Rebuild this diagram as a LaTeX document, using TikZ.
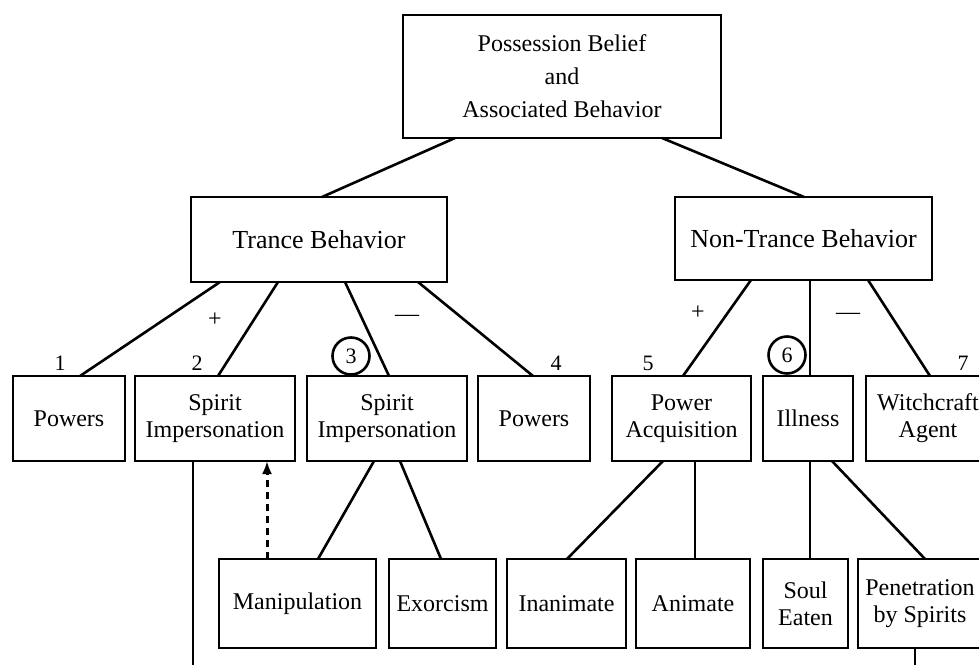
\documentclass[tikz,border=0pt]{standalone}
\usepackage{fontspec}
\setmainfont{Liberation Serif}
\usetikzlibrary{positioning, arrows.meta}

\begin{document}
\begin{tikzpicture}[
    x=1pt, y=-1pt,
    box/.style={rectangle, draw, line width=2.8pt, inner sep=0pt, outer sep=0pt, align=center, minimum height=85pt, font=\fontsize{24}{27}\selectfont},
    lowbox/.style={box, minimum height=89pt},
    line/.style={draw, line width=2.6pt},
    num/.style={inner sep=0pt, font=\fontsize{22}{22}\selectfont},
    ring/.style={circle, draw, line width=2.6pt, minimum size=37pt, inner sep=0pt, font=\fontsize{22}{22}\selectfont},
    sign/.style={inner sep=0pt, font=\fontsize{24}{24}\selectfont}
]
    \useasboundingbox (0,0) rectangle (979,664);
    \clip (0,0) rectangle (979,664);

    % Nodes
    \node (root) [box, minimum width=318pt, minimum height=123pt, font=\fontsize{24}{33}\selectfont] at (562,76.5) {Possession Belief\\and\\Associated Behavior};

    \node (trance) [box, minimum width=256pt, font=\fontsize{26}{27}\selectfont] at (319,239.5) {Trance Behavior};
    \node (nontrance) [box, minimum width=257pt, minimum height=83pt, font=\fontsize{26}{27}\selectfont] at (803.5,238.5) {Non-Trance Behavior};

    \node (pw1) [box, minimum width=112pt] at (69,418.5) {Powers};
    \node (si2) [box, minimum width=160pt, right=10pt of pw1] {Spirit\\Impersonation};
    \node (si3) [box, minimum width=160pt, right=12pt of si2] {Spirit\\Impersonation};
    \node (pw4) [box, minimum width=112pt, right=11pt of si3] {Powers};
    \node (pa) [box, minimum width=139pt, right=22pt of pw4] {Power\\Acquisition};
    \node (ill) [box, minimum width=90pt, right=12pt of pa] {Illness};
    \node (wit) [box, minimum width=124pt, right=13pt of ill] {Witchcraft\\Agent};

    \node (man) [lowbox, minimum width=157pt] at (297.5,603.5) {Manipulation};
    \node (exo) [lowbox, minimum width=107pt, right=13pt of man] {Exorcism};
    \node (ina) [lowbox, minimum width=119pt, right=11pt of exo] {Inanimate};
    \node (ani) [lowbox, minimum width=114pt, right=10pt of ina] {Animate};
    \node (soul) [lowbox, minimum width=85pt, right=13pt of ani] {Soul\\Eaten};
    \node (pen) [lowbox, minimum width=124pt, right=10pt of soul] {Penetration\\by Spirits};

    % Labels
    \node (n1) [num] at (60,363) {1};
    \node (n2) [num] at (197,363) {2};
    \node (n3) [ring] at (351,356) {3};
    \node (n4) [num] at (556,363) {4};
    \node (n5) [num] at (648,363) {5};
    \node (n6) [ring] at (787,355) {6};
    \node (n7) [num] at (963,363) {7};
    \node (plusl) [sign] at (215,320) {+};
    \node (minusl) [sign] at (407,318) {---};
    \node (plusr) [sign] at (698,313) {+};
    \node (minusr) [sign] at (848,316) {---};

    \coordinate (loopl) at (193,680);
    \coordinate (loopr) at (915,680);

    % Connections
    \draw [line] ([xshift=52pt]root.south west) -- ([xshift=131pt]trance.north west);
    \draw [line] ([xshift=259pt]root.south west) -- ([xshift=129pt]nontrance.north west);

    \draw [line] ([xshift=29pt]trance.south west) -- ([xshift=67pt]pw1.north west);
    \draw [line] ([xshift=87pt]trance.south west) -- ([xshift=83pt]si2.north west);
    \draw [line] ([xshift=154pt]trance.south west) -- ([xshift=82pt]si3.north west);
    \draw [line] ([xshift=227pt]trance.south west) -- ([xshift=55pt]pw4.north west);

    \draw [line] ([xshift=76pt]nontrance.south west) -- ([xshift=71pt]pa.north west);
    \draw [line] ([xshift=135pt]nontrance.south west) -- ([xshift=47pt]ill.north west);
    \draw [line] ([xshift=193pt]nontrance.south west) -- ([xshift=64pt]wit.north west);

    \draw [line] ([xshift=67pt]si3.south west) -- ([xshift=99pt]man.north west);
    \draw [line] ([xshift=93pt]si3.south west) -- ([xshift=52pt]exo.north west);
    \draw [line] ([xshift=51pt]pa.south west) -- ([xshift=60pt]ina.north west);
    \draw [line] ([xshift=83pt]pa.south west) -- ([xshift=59pt]ani.north west);
    \draw [line] ([xshift=47pt]ill.south west) -- ([xshift=47pt]soul.north west);
    \draw [line] ([xshift=69pt]ill.south west) -- ([xshift=67pt]pen.north west);

    \draw [line, line width=3pt, dash pattern=on 7pt off 5pt, -{Latex[length=13pt,width=10pt]}] ([xshift=48pt]man.north west) -- ([xshift=132pt]si2.south west);
    \draw [line] ([xshift=58pt]si2.south west) -- (loopl);
    \draw [line] ([xshift=57pt]pen.south west) -- (loopr);
\end{tikzpicture}
\end{document}
